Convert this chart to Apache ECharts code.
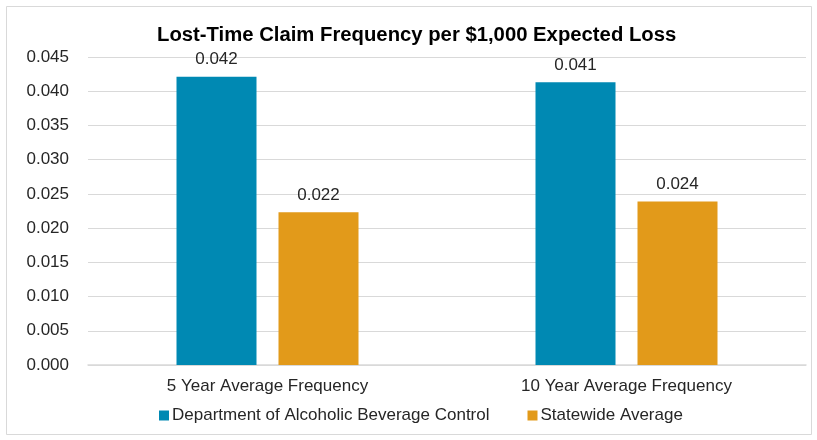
<!DOCTYPE html>
<html>
<head>
    <meta charset="utf-8" />
    <title></title>
    <style>
        html, body { margin: 0; padding: 0; background: #fff; }
    </style>
</head>
<body>
<div id="main" style="width:817px;height:440px"></div>
<script src="https://cdn.jsdelivr.net/npm/echarts@6/dist/echarts.min.js"></script>
<script type="text/javascript">
    var categories = ['5 Year Average Frequency', '10 Year Average Frequency'];
    var deptValues = [0.0421, 0.0413];
    var stateValues = [0.0223, 0.0239];
    var seriesNames = ['Department of Alcoholic Beverage Control', 'Statewide Average'];

    var font = 'Liberation Sans, Arial, sans-serif';
    var myChart = echarts.init(document.getElementById('main'));
    var option = {
        backgroundColor: '#fff',
        animation: false,
        textStyle: { fontFamily: font },
        title: {
            text: 'Lost-Time Claim Frequency per $1,000 Expected Loss',
            left: 152,
            top: 20,
            textStyle: { fontSize: 20.3, fontWeight: 'bold', color: '#000', fontFamily: font }
        },
        graphic: [{
            type: 'rect',
            shape: { x: 6.5, y: 6.5, width: 805, height: 428 },
            style: { fill: 'none', stroke: '#d9d9d9', lineWidth: 1 },
            silent: true
        }],
        legend: {
            data: seriesNames,
            bottom: 11,
            left: 154,
            itemWidth: 10,
            itemHeight: 10,
            itemGap: 38,
            icon: 'rect',
            textStyle: { fontSize: 17, color: '#262626', fontFamily: font, padding: [0, 0, 0, -2] }
        },
        grid: { left: 88, right: 11, top: 57, bottom: 75 },
        xAxis: {
            type: 'category',
            data: categories,
            axisTick: { show: false },
            axisLine: { lineStyle: { color: '#d9d9d9', width: 1.5 } },
            axisLabel: { fontSize: 17, color: '#262626', margin: 13, fontFamily: font }
        },
        yAxis: {
            type: 'value',
            min: 0,
            max: 0.045,
            interval: 0.005,
            axisLine: { show: false },
            axisTick: { show: false },
            splitLine: { lineStyle: { color: '#d9d9d9', width: 1 } },
            axisLabel: {
                fontSize: 17, color: '#262626', margin: 19, fontFamily: font,
                formatter: function (v) { return v.toFixed(3); }
            }
        },
        series: [{
            name: seriesNames[0],
            type: 'bar',
            data: deptValues,
            barWidth: 80,
            barGap: '27.5%',
            itemStyle: { color: '#0089B3' },
            label: {
                show: true, position: 'top', distance: 9, fontSize: 17, color: '#262626', fontFamily: font,
                formatter: function (p) { return p.value.toFixed(3); }
            }
        }, {
            name: seriesNames[1],
            type: 'bar',
            data: stateValues,
            barWidth: 80,
            itemStyle: { color: '#E29A1A' },
            label: {
                show: true, position: 'top', distance: 9, fontSize: 17, color: '#262626', fontFamily: font,
                formatter: function (p) { return p.value.toFixed(3); }
            }
        }]
    };
    myChart.setOption(option);
</script>
</body>
</html>
